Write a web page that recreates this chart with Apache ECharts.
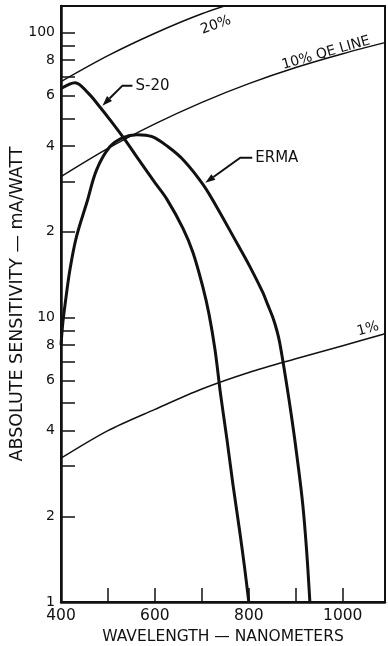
<!DOCTYPE html>
<html>
<head>
<meta charset="utf-8">
<script src="https://cdn.jsdelivr.net/npm/echarts@6/dist/echarts.min.js"></script>
<style>
  html, body { margin: 0; padding: 0; background: #fff; }
  #chart { width: 388px; height: 646px; }
</style>
</head>
<body>
<div id="chart"></div>
<script>
// Photocathode response: wavelength (nm) against absolute sensitivity (mA/W)
const s20Wavelength = [400, 430, 457, 479, 509, 536, 564, 600, 626, 660, 681, 702, 715, 728, 740, 753, 766, 781, 791, 800];
const s20Sensitivity = [63.6, 66.7, 61.5, 55.8, 48.3, 42.1, 36.1, 29.7, 25.9, 20.5, 16.9, 12.8, 10.3, 7.69, 5.34, 3.77, 2.60, 1.75, 1.32, 1.0];

const ermaWavelength = [400, 404, 409, 419, 433, 455, 476, 504, 532, 562, 594, 628, 662, 703, 731, 767, 802, 830, 840, 851, 860, 866, 879, 892, 904, 915, 923, 930];
const ermaSensitivity = [8.0, 9.6, 11.2, 14.7, 19.2, 25.3, 33.0, 39.7, 42.8, 43.8, 43.1, 39.7, 35.5, 29.2, 24.5, 19.2, 15.1, 12.2, 11.1, 10.0, 8.95, 8.1, 6.03, 4.36, 3.11, 2.19, 1.52, 1.0];

// Constant quantum-efficiency reference lines
const qeWavelength = [400, 500, 600, 700, 800, 900, 1000, 1090];
const qe20 = [67.3, 83.0, 99.5, 116.5, 132, 148, 164, 178];
const qe10 = [31.2, 39.2, 47.8, 56.9, 66.2, 75.4, 84.3, 92.2];
const qe1 = [3.2, 4.0, 4.75, 5.6, 6.4, 7.15, 7.95, 8.75];

// Axis ticks and labels
const xTickValues = [500, 600, 700, 800, 900, 1000];
const xLabelValues = [400, 600, 800, 1000];
const yTickValues = [2, 3, 4, 5, 6, 7, 8, 9, 10, 20, 30, 40, 50, 60, 70, 80, 90, 100];
const yLabelValues = [1, 2, 4, 6, 8, 10, 20, 40, 60, 80, 100];

const INK = '#111';
const FONT = '"DejaVu Sans", sans-serif';

function pairs(xs, ys) {
  return xs.map((x, i) => [x, ys[i]]);
}

const chart = echarts.init(document.getElementById('chart'), null, { renderer: 'canvas' });

const lineBase = {
  type: 'line',
  showSymbol: false,
  symbol: 'none',
  silent: true,
  clip: true
};

chart.setOption({
  animation: false,
  backgroundColor: '#fff',
  grid: {
    left: 61, right: 3, top: 6, bottom: 44,
    show: true, borderColor: INK, borderWidth: 2,
    containLabel: false, outerBoundsMode: 'none'
  },
  xAxis: {
    type: 'value', min: 400, max: 1090,
    name: 'WAVELENGTH — NANOMETERS',
    nameLocation: 'middle', nameGap: 24,
    nameTextStyle: { fontFamily: FONT, fontSize: 15.5, color: INK },
    axisLine: { show: true, lineStyle: { color: INK, width: 2.5 } },
    axisTick: { show: true, inside: true, length: 14, customValues: xTickValues, lineStyle: { color: INK, width: 1.5 } },
    axisLabel: {
      show: true, customValues: xLabelValues, margin: 6,
      fontFamily: FONT, fontSize: 15.5, color: INK,
      formatter: v => String(v)
    },
    splitLine: { show: false }
  },
  yAxis: {
    type: 'log', logBase: 10, min: 1, max: 124,
    name: 'ABSOLUTE SENSITIVITY — mA/WATT',
    nameLocation: 'middle', nameGap: 35, nameRotate: 90,
    nameMoveOverlap: false,
    nameTextStyle: { fontFamily: FONT, fontSize: 17.5, color: INK },
    axisLine: { show: true, lineStyle: { color: INK, width: 2.5 } },
    axisTick: { show: true, inside: true, length: 14, customValues: yTickValues, lineStyle: { color: INK, width: 1.5 } },
    axisLabel: {
      show: true, customValues: yLabelValues, margin: 6,
      fontFamily: FONT, fontSize: 14, color: INK,
      formatter: v => (v > 10 && v < 100) ? String(Math.round(v / 10)) : String(Math.round(v))
    },
    splitLine: { show: false },
    minorTick: { show: false }
  },
  series: [
    Object.assign({}, lineBase, { name: '20%', data: pairs(qeWavelength, qe20), smooth: 0.3, lineStyle: { color: INK, width: 1.5 } }),
    Object.assign({}, lineBase, { name: '10%', data: pairs(qeWavelength, qe10), smooth: 0.3, lineStyle: { color: INK, width: 1.5 } }),
    Object.assign({}, lineBase, { name: '1%', data: pairs(qeWavelength, qe1), smooth: 0.3, lineStyle: { color: INK, width: 1.5 } }),
    Object.assign({}, lineBase, { name: 'S-20', data: pairs(s20Wavelength, s20Sensitivity), smooth: 0.35, lineStyle: { color: INK, width: 3 } }),
    Object.assign({}, lineBase, { name: 'ERMA', data: pairs(ermaWavelength, ermaSensitivity), smooth: 0.35, lineStyle: { color: INK, width: 3 } })
  ]
});

// Leader arrows and curve labels
function toPx(p) {
  return chart.convertToPixel({ xAxisIndex: 0, yAxisIndex: 0 }, p);
}

function leader(tipData, bend, end, text) {
  const t = toPx(tipData);
  const tip = [t[0] + 2, t[1] - 2];
  const b = [tip[0] + bend[0], tip[1] + bend[1]];
  const e = [tip[0] + end[0], tip[1] + end[1]];
  const dx = tip[0] - b[0], dy = tip[1] - b[1];
  const len = Math.hypot(dx, dy);
  const ux = dx / len, uy = dy / len;
  const head = 10, half = 3.5;
  const base = [tip[0] - ux * head, tip[1] - uy * head];
  return [
    { type: 'polyline', silent: true, shape: { points: [[base[0], base[1]], b, e] }, style: { stroke: INK, lineWidth: 2, fill: null } },
    { type: 'polygon', silent: true, shape: { points: [tip, [base[0] - uy * half, base[1] + ux * half], [base[0] + uy * half, base[1] - ux * half]] }, style: { fill: INK } },
    { type: 'text', silent: true, x: e[0] + 3, y: e[1], style: { text: text, fill: INK, font: '15px ' + FONT, align: 'left', verticalAlign: 'middle' } }
  ];
}

function tilted(text, x, y, deg) {
  return { type: 'text', silent: true, x: x, y: y, rotation: deg * Math.PI / 180,
    style: { text: text, fill: INK, font: '14px ' + FONT, align: 'center', verticalAlign: 'middle' } };
}

chart.setOption({
  graphic: [].concat(
    leader([484, 54.5], [20, -20], [30, -20], 'S-20'),
    leader([703, 29.2], [35, -25], [47, -25], 'ERMA'),
    [
      tilted('20%', 216, 25, 20),
      tilted('10% QE LINE', 326, 53, 16),
      tilted('1%', 368, 329, 15)
    ]
  )
});
</script>
</body>
</html>
